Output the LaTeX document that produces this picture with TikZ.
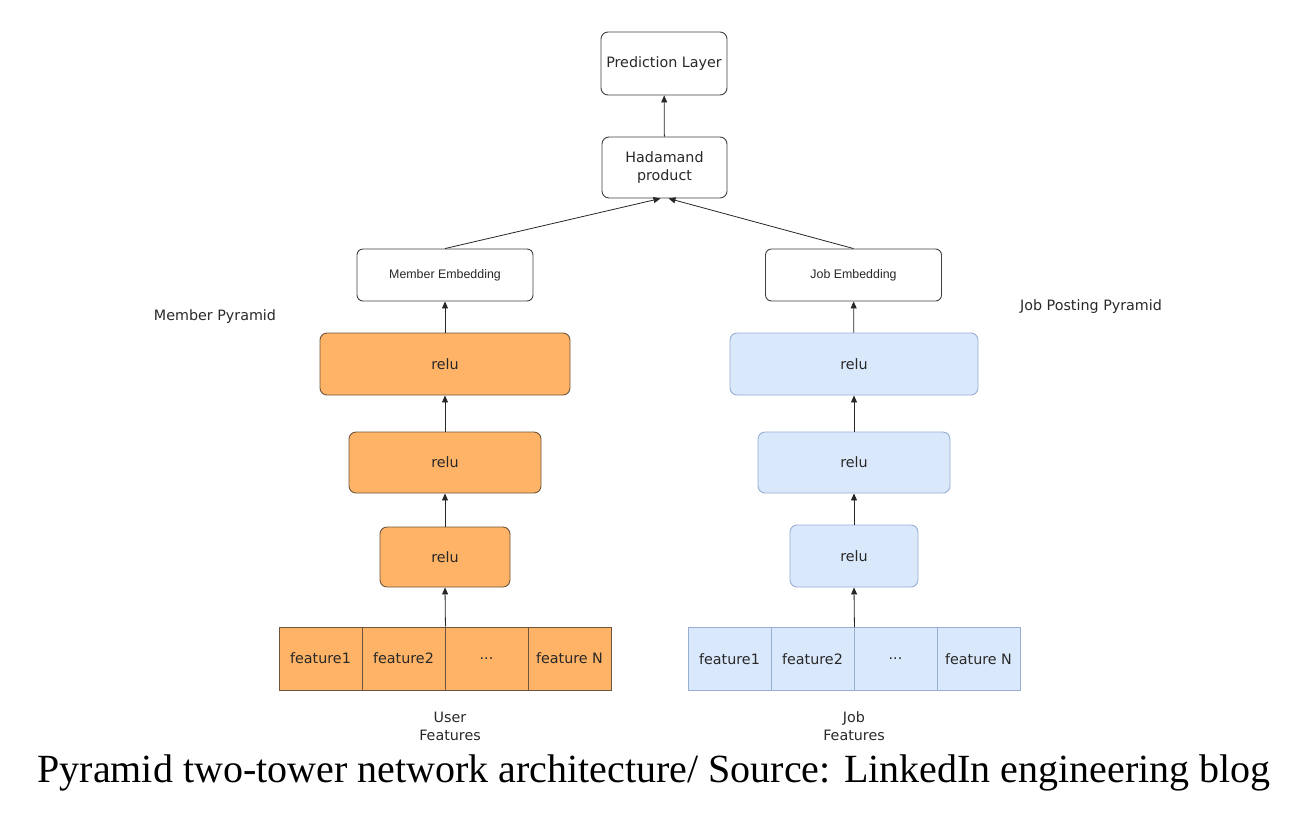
\documentclass[tikz,border=0pt]{standalone}
\usepackage{fontspec}
\setmainfont{Liberation Serif}
\newfontfamily\djv{DejaVu Sans}
\newfontfamily\lib{Liberation Sans}
\usetikzlibrary{arrows.meta}
\definecolor{orng}{RGB}{255,179,102}
\definecolor{orngd}{RGB}{110,85,60}
\definecolor{blu}{RGB}{218,232,252}
\definecolor{blud}{RGB}{150,175,210}
\definecolor{txt}{RGB}{40,40,40}
\begin{document}
\begin{tikzpicture}[x=1pt,y=-1pt,
  box/.style={draw=black!75, fill=white, rounded corners=7pt, line width=0.9pt, text=txt,
    font=\djv\fontsize{14.3}{18}\selectfont, align=center, inner sep=0pt},
  obox/.style={box, fill=orng, draw=orngd},
  bbox/.style={box, fill=blu, draw=blud},
  emb/.style={box, font=\lib\fontsize{12.4}{14}\selectfont, minimum width=176pt, minimum height=52pt, rounded corners=6pt},
  ocell/.style={draw=orngd, fill=orng, line width=0.9pt, minimum width=83pt, minimum height=63pt, inner sep=0pt, text=txt, font=\djv\fontsize{14.3}{16}\selectfont},
  bcell/.style={ocell, draw=blud, fill=blu},
  lbl/.style={text=txt, font=\djv\fontsize{14.3}{18}\selectfont, align=center},
  arr/.style={-{Triangle[length=7pt,width=6pt]}, line width=0.8pt, draw=black!85}
]
\useasboundingbox (0,0) rectangle (1312,820);
% top
\node[box, minimum width=126pt, minimum height=63pt] (pl) at (664,63.5) {Prediction Layer};
\node[box, minimum width=125pt, minimum height=61pt] (hp) at (664.5,167.5) {Hadamand\\product};
\node[emb] (me) at (445,275) {Member Embedding};
\node[emb] (je) at (853.5,275) {Job Embedding};
% labels
\node[lbl] (mp) at (215,317) {Member Pyramid};
\node[lbl] (jp) at (1091,307) {Job Posting Pyramid};
% left tower
\node[obox, minimum width=250pt, minimum height=62pt] (l1) at (445,364) {relu};
\node[obox, minimum width=192pt, minimum height=61pt] (l2) at (445,462.5) {relu};
\node[obox, minimum width=130pt, minimum height=60pt] (l3) at (445,557) {relu};
\node[ocell] (lf1) at (320.5,658.5) {feature1};
\node[ocell] (lf2) at (403.5,658.5) {feature2};
\node[ocell] (lf3) at (486.5,658.5) {...};
\node[ocell] (lf4) at (569.5,658.5) {feature N};
\node[lbl] (uf) at (450,726) {User\\Features};
% right tower
\node[bbox, minimum width=248pt, minimum height=62pt] (r1) at (854,364) {relu};
\node[bbox, minimum width=192pt, minimum height=61pt] (r2) at (854,462.5) {relu};
\node[bbox, minimum width=128pt, minimum height=62pt] (r3) at (854,556) {relu};
\node[bcell] (rf1) at (729.5,659) {feature1};
\node[bcell] (rf2) at (812.5,659) {feature2};
\node[bcell] (rf3) at (895.5,659) {...};
\node[bcell] (rf4) at (978.5,659) {feature N};
\node[lbl] (jf) at (854,726) {Job\\Features};
% caption
\node[font=\fontsize{40}{44}\selectfont] (cap) at (654,773) {Pyramid two-tower network architecture/ Source: LinkedIn engineering blog};
% arrows
\draw[arr] (hp) -- (pl);
\draw[arr] (me.north) -- ([xshift=-4pt]hp.south);
\draw[arr] (je.north) -- ([xshift=4pt]hp.south);
\draw[arr] (l1) -- (me);
\draw[arr] (l2) -- (l1);
\draw[arr] (l3) -- (l2);
\draw[arr] (lf2.north east) -- (l3.south);
\draw[arr] (r1) -- (je);
\draw[arr] (r2) -- (r1);
\draw[arr] (r3) -- (r2);
\draw[arr] (rf2.north east) -- (r3.south);
\end{tikzpicture}
\end{document}
